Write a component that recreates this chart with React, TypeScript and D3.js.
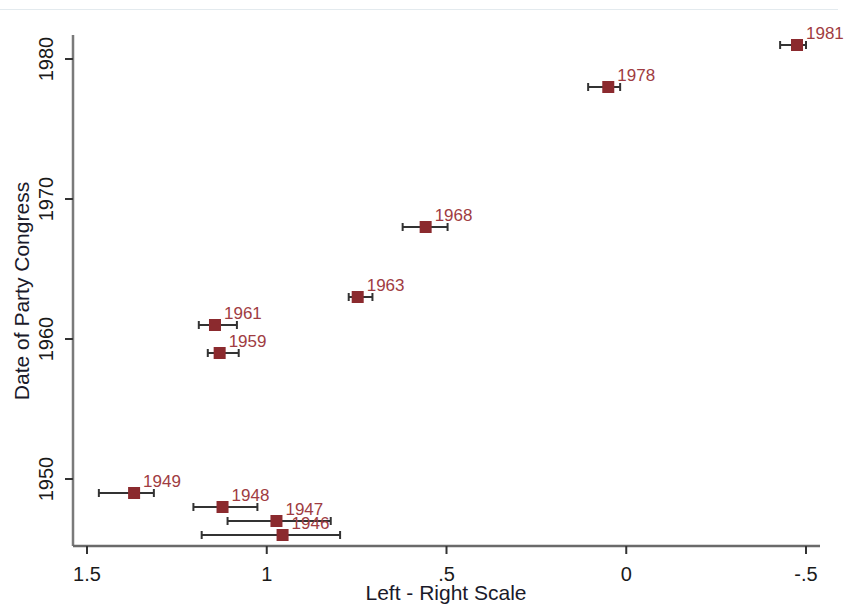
import React from 'react';
import * as d3 from 'd3';

// congress years and left-right estimates (x axis runs reversed, 1.5 on the left)
const years = [1981, 1978, 1968, 1963, 1961, 1959, 1949, 1948, 1947, 1946];
const estimate = [-0.475, 0.05, 0.558, 0.747, 1.144, 1.131, 1.369, 1.123, 0.973, 0.956];
const ciLeft = [-0.428, 0.106, 0.622, 0.772, 1.189, 1.164, 1.467, 1.204, 1.109, 1.181];
const ciRight = [-0.5, 0.017, 0.497, 0.706, 1.083, 1.078, 1.314, 1.026, 0.822, 0.796];

const xTicks = [1.5, 1, 0.5, 0, -0.5];
const xTickLabels = ['1.5', '1', '.5', '0', '-.5'];
const yTicks = [1950, 1960, 1970, 1980];

const W = 845;
const H = 604;
const font = '"Liberation Sans", Arial, sans-serif';

const App = () => {
  const x = d3.scaleLinear().domain([1.5, -0.5]).range([87, 806]);
  const y = d3.scaleLinear().domain([1950, 1980]).range([479, 59]);

  const axisLeft = 73;
  const axisBottom = 546;
  const axisTop = 35;
  const axisRight = 820;

  const marker = 12;
  const cap = 4;

  return (
    <svg width={W} height={H} style={{ position: 'absolute', left: 0, top: 0 }}>
      <rect width={W} height={H} fill="#fff" />
      <line x1={0} x2={838} y1={9.5} y2={9.5} stroke="#e3eaee" strokeWidth={1} />

      {/* axes */}
      <line x1={axisLeft} x2={axisLeft} y1={axisTop} y2={axisBottom} stroke="#7a7a7a" strokeWidth={2.5} />
      <line x1={axisLeft} x2={axisRight} y1={axisBottom} y2={axisBottom} stroke="#6a6a6a" strokeWidth={2.5} />

      {xTicks.map((t, i) => (
        <g key={'xt' + i}>
          <line x1={x(t)} x2={x(t)} y1={axisBottom} y2={axisBottom + 8} stroke="#333" strokeWidth={2} />
          <text x={x(t)} y={581} textAnchor="middle" fontFamily={font} fontSize={20} fill="#1a1a1a">
            {xTickLabels[i]}
          </text>
        </g>
      ))}
      <text x={446} y={600} textAnchor="middle" fontFamily={font} fontSize={21} fill="#1a1a2a">
        Left - Right Scale
      </text>

      {yTicks.map((t) => (
        <g key={'yt' + t}>
          <line x1={axisLeft - 8} x2={axisLeft} y1={y(t)} y2={y(t)} stroke="#333" strokeWidth={2} />
          <text
            transform={`translate(53,${y(t)}) rotate(-90)`}
            textAnchor="middle"
            fontFamily={font}
            fontSize={20}
            fill="#1a1a1a"
          >
            {t}
          </text>
        </g>
      ))}
      <text
        transform={`translate(29,291) rotate(-90)`}
        textAnchor="middle"
        fontFamily={font}
        fontSize={21}
        fill="#1a1a2a"
      >
        Date of Party Congress
      </text>

      {/* error bars */}
      {years.map((yr, i) => (
        <g key={'ci' + yr} stroke="#333" strokeWidth={2}>
          <line x1={x(ciLeft[i])} x2={x(ciRight[i])} y1={y(yr)} y2={y(yr)} />
          <line x1={x(ciLeft[i])} x2={x(ciLeft[i])} y1={y(yr) - cap} y2={y(yr) + cap} />
          <line x1={x(ciRight[i])} x2={x(ciRight[i])} y1={y(yr) - cap} y2={y(yr) + cap} />
        </g>
      ))}

      {/* markers and labels */}
      {years.map((yr, i) => (
        <g key={'pt' + yr}>
          <rect
            x={x(estimate[i]) - marker / 2}
            y={y(yr) - marker / 2}
            width={marker}
            height={marker}
            fill="#8b2a2e"
          />
          <text x={x(estimate[i]) + 9} y={y(yr) - 6} fontFamily={font} fontSize={17} fill="#a03c42">
            {yr}
          </text>
        </g>
      ))}
    </svg>
  );
};

export default App;
